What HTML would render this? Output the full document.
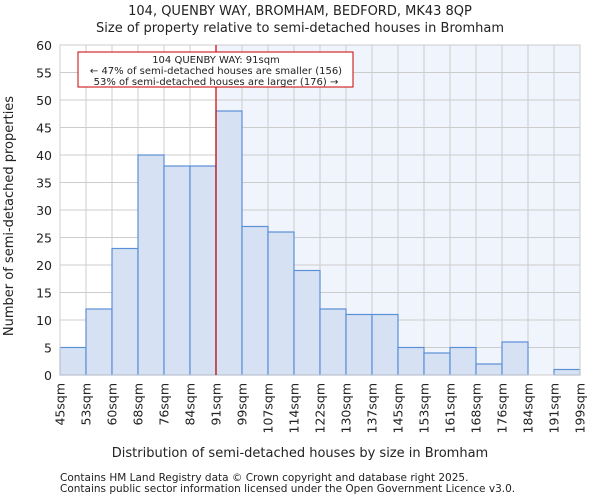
<!DOCTYPE html>
<html><head><meta charset="utf-8"><style>
body{margin:0;background:#fff;font-family:"DejaVu Sans","Liberation Sans",sans-serif;}
svg text{font-family:"DejaVu Sans","Liberation Sans",sans-serif;fill:#222;}
</style></head><body>
<svg id="c" width="600" height="500">
<text x="300" y="15" font-size="13" text-anchor="middle">104, QUENBY WAY, BROMHAM, BEDFORD, MK43 8QP</text>
<text x="300" y="32" font-size="13" text-anchor="middle">Size of property relative to semi-detached houses in Bromham</text>
<g id="plot"></g>
<text x="300" y="457" font-size="13" text-anchor="middle">Distribution of semi-detached houses by size in Bromham</text>
<text transform="translate(13,216) rotate(-90)" font-size="13" text-anchor="middle">Number of semi-detached properties</text>
<text x="60" y="481" font-size="10.5">Contains HM Land Registry data © Crown copyright and database right 2025.</text>
<text x="60" y="492" font-size="10.5">Contains public sector information licensed under the Open Government Licence v3.0.</text>
</svg>
<script>
const binLabels=["45sqm","53sqm","60sqm","68sqm","76sqm","84sqm","91sqm","99sqm","107sqm","114sqm","122sqm","130sqm","137sqm","145sqm","153sqm","161sqm","168sqm","176sqm","184sqm","191sqm","199sqm"];
const counts=[5,12,23,40,38,38,48,27,26,19,12,11,11,5,4,5,2,6,0,1];
const yTicks=[0,5,10,15,20,25,30,35,40,45,50,55,60];
const markerIndex=6;
const NS="http://www.w3.org/2000/svg";
const L=60,R=580,T=45,B=375,yMax=60;
const bw=(R-L)/counts.length;
const x=i=>L+i*bw;
const y=v=>B-(v/yMax)*(B-T);
const g=document.getElementById('plot');
function mk(t,a){const e=document.createElementNS(NS,t);for(const k in a)e.setAttribute(k,a[k]);g.appendChild(e);return e;}
let e=mk('rect',{x:x(markerIndex),y:T,width:R-x(markerIndex),height:B-T,fill:'#f0f4fc'});


yTicks.forEach(v=>{
 let l=mk('line',{x1:L,x2:R,y1:y(v),y2:y(v),stroke:'#cccccc','stroke-width':1});
 
 
 let t=mk('text',{x:L-8,y:y(v)+5,'font-size':12.5,'text-anchor':'end'});t.textContent=v;
 
 
});
binLabels.forEach((s,i)=>{
 let l=mk('line',{x1:x(i),x2:x(i),y1:T,y2:B,stroke:'#cccccc','stroke-width':1});
 
 
 let t=mk('text',{transform:`translate(${x(i)+4.5},${B+8}) rotate(-90)`,'font-size':12.5,'text-anchor':'end'});t.textContent=s;
 
 
});
counts.forEach((c,i)=>{
 if(c<=0)return;
 let r=mk('rect',{x:x(i),y:y(c),width:bw,height:B-y(c),fill:'#d6e2f3',stroke:'#5b8fd6','stroke-width':1.2});
 
 
});
let ax=mk('rect',{x:L,y:T,width:R-L,height:B-T,fill:'none',stroke:'#cccccc','stroke-width':1});


let ml=mk('line',{x1:x(markerIndex),x2:x(markerIndex),y1:T,y2:B,stroke:'#cc0000','stroke-width':1.2});


let box=mk('rect',{x:78,y:52,width:275,height:35,fill:'#fff',stroke:'#cc0000','stroke-width':1});


["104 QUENBY WAY: 91sqm","← 47% of semi-detached houses are smaller (156)","53% of semi-detached houses are larger (176) →"].forEach((s,i)=>{
 let t=mk('text',{x:216,y:63+i*11,'font-size':10,'text-anchor':'middle'});t.textContent=s;
 
 
});
</script>
</body></html>
